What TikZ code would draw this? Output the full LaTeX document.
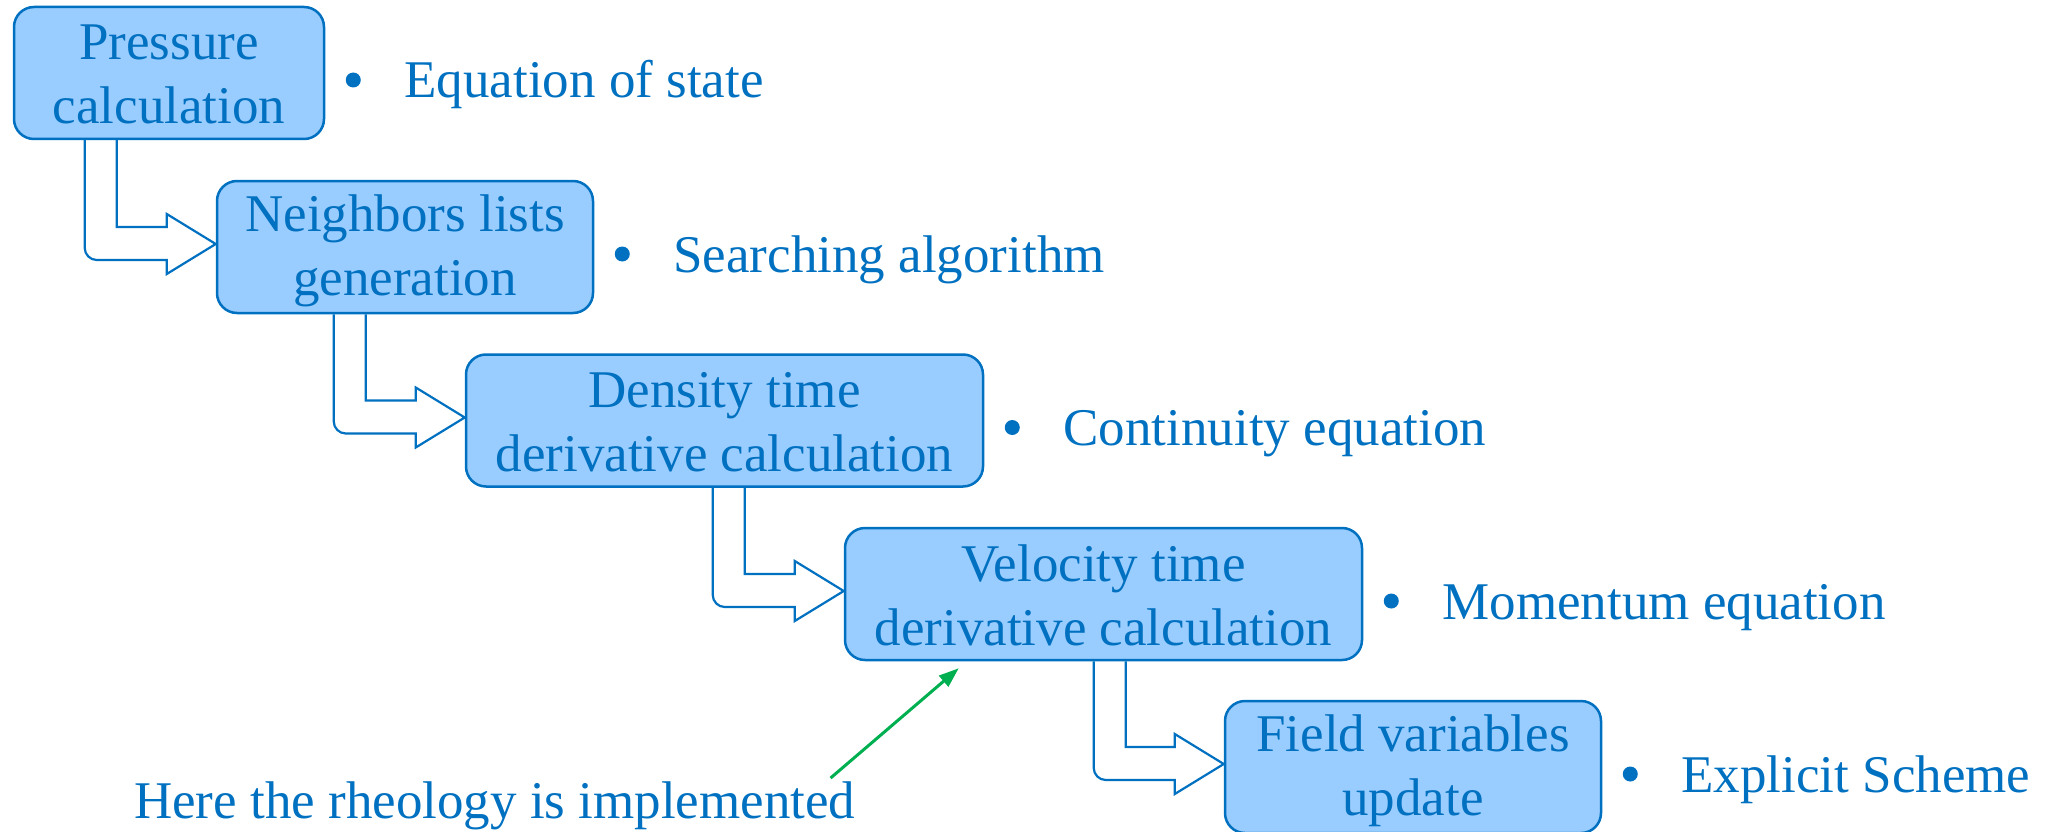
\documentclass[tikz,border=0pt]{standalone}
\usepackage{fontspec}
\setmainfont{Liberation Serif}
\usetikzlibrary{calc,arrows.meta}
\definecolor{txtblue}{HTML}{0070C0}
\definecolor{boxfill}{HTML}{99CCFF}
\definecolor{boxline}{HTML}{0070C0}
\definecolor{grn}{HTML}{00B050}
\newcommand\boxlines[2]{\rule{0pt}{45pt}#1\\#2\rule[-7pt]{0pt}{7pt}}
\newcommand\blockconn[3]{%
  \coordinate (s-#1) at ($(#1.south west)+(#3,0)$);
  \coordinate (t-#1) at ($(#2.west)+(0,13)$);
  \draw[blockarrow] (s-#1) [rounded corners=12pt] -- (s-#1 |- t-#1) [sharp corners]
    -- ($(#2.west)+(-49,13)$)
    -- ($(#2.west)+(-49,27)$) -- ($(#2.west)+(0,-3)$)
    -- ($(#2.west)+(-49,-33)$) -- ($(#2.west)+(-49,-20)$)
    -| ($(#1.south west)+(#3+32,0)$);}
\begin{document}
\begin{tikzpicture}[x=1pt,y=-1pt,
  stepbox/.style={draw=boxline, line width=2.5pt, fill=boxfill, rounded corners=20pt,
    minimum height=132pt, inner sep=0pt, align=center, text=txtblue,
    font=\fontsize{53}{64}\selectfont},
  itemtext/.style={anchor=base west, inner sep=0pt, text=txtblue,
    font=\fontsize{53}{64}\selectfont},
  bulletdot/.style={circle, fill=txtblue, inner sep=0pt, minimum size=15pt},
  blockarrow/.style={draw=boxline, line width=2.2pt, line join=miter},
  notearrow/.style={draw=grn, line width=3pt, -{Triangle[length=20pt,width=14pt]}},
]
\useasboundingbox (0,0) rectangle (2055,832);

\node[stepbox, minimum width=310pt] (b1) at (169,73) {\boxlines{Pressure}{calculation}};
\node[stepbox, minimum width=376pt] (b2) at (405,247) {\boxlines{Neighbors lists}{generation}};
\node[stepbox, minimum width=517pt] (b3) at (724.5,420.5) {\boxlines{Density time}{derivative calculation}};
\node[stepbox, minimum width=517pt] (b4) at (1103.5,594) {\boxlines{Velocity time}{derivative calculation}};
\node[stepbox, minimum width=376pt] (b5) at (1413,767) {\boxlines{Field variables}{update}};

\blockconn{b1}{b2}{72}
\blockconn{b2}{b3}{118}
\blockconn{b3}{b4}{248}
\blockconn{b4}{b5}{250}

\node[bulletdot] (d1) at ($(b1.east)+(28,7)$) {};
\node[itemtext] (e1) at ($(b1.east)+(79,25)$) {Equation of state};
\node[bulletdot] (d2) at ($(b2.east)+(28,7)$) {};
\node[itemtext] (e2) at ($(b2.east)+(79,25)$) {Searching algorithm};
\node[bulletdot] (d3) at ($(b3.east)+(28,7)$) {};
\node[itemtext] (e3) at ($(b3.east)+(79,25)$) {Continuity equation};
\node[bulletdot] (d4) at ($(b4.east)+(28,7)$) {};
\node[itemtext] (e4) at ($(b4.east)+(79,25)$) {Momentum equation};
\node[bulletdot] (d5) at ($(b5.east)+(28,7)$) {};
\node[itemtext] (e5) at ($(b5.east)+(79,25)$) {Explicit Scheme};

\node[itemtext] (note) at (134,818) {Here the rheology is implemented};
\draw[notearrow] ($(note.north east)+(-25,-3)$) -- ($(b4.south west)+(115,7)$);
\end{tikzpicture}
\end{document}
